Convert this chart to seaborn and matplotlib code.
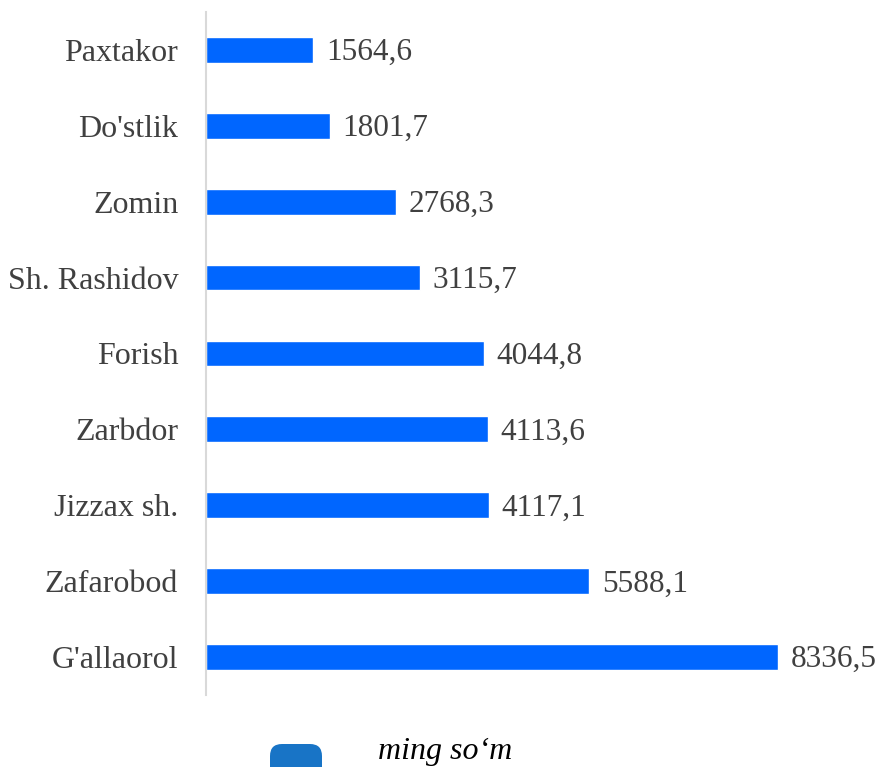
"""Horizontal bar chart of district values (ming so'm)."""

import matplotlib.pyplot as plt
import pandas as pd
import seaborn as sns
from matplotlib.patches import FancyBboxPatch
from matplotlib.transforms import IdentityTransform

districts = ["Paxtakor", "Do'stlik", "Zomin", "Sh. Rashidov", "Forish",
             "Zarbdor", "Jizzax sh.", "Zafarobod", "G'allaorol"]
values = [1564.6, 1801.7, 2768.3, 3115.7, 4044.8, 4113.6, 4117.1, 5588.1, 8336.5]
value_labels = ["1564,6", "1801,7", "2768,3", "3115,7", "4044,8",
                "4113,6", "4117,1", "5588,1", "8336,5"]
legend_label = "ming so\u2018m"

sns.set_theme(style="white")
plt.rcParams["font.family"] = ["Liberation Serif", "DejaVu Serif"]

data = pd.DataFrame({"district": districts, "value": values})

fig = plt.figure(figsize=(8.83, 7.67), dpi=100)
ax = fig.add_axes([0.2333, 0.0939, 0.7567, 0.8905])

sns.barplot(data=data, y="district", x="value", orient="h", color="#0066FF",
            width=0.34, saturation=1, ax=ax)

labels = ax.bar_label(ax.containers[0], labels=value_labels, padding=9,
                      fontsize=22.5, color="#404040")
for t in labels:
    t.xyann = (t.xyann[0], -2)

ax.set_xlim(0, 9737)
ax.set_ylim(8.5, -0.5)
ax.set_xlabel("")
ax.set_ylabel("")
ax.set_xticks([])
ax.tick_params(axis="y", length=0, pad=20, labelsize=23, labelcolor="#404040")
for side in ["top", "right", "bottom"]:
    ax.spines[side].set_visible(False)
ax.spines["left"].set_color("#d9d9d9")
ax.spines["left"].set_linewidth(1.5)

# legend marker (cut by the bottom edge) and label
marker = FancyBboxPatch((270, -12), 52, 35,
                        boxstyle="round,pad=0,rounding_size=12",
                        transform=IdentityTransform(), facecolor="#1874C6",
                        edgecolor="none")
fig.patches.append(marker)
fig.text(378 / 883, 1 - 752 / 767, legend_label, fontsize=23, style="italic",
         color="black", va="center", ha="left")

fig.savefig("out.png", dpi=100)
